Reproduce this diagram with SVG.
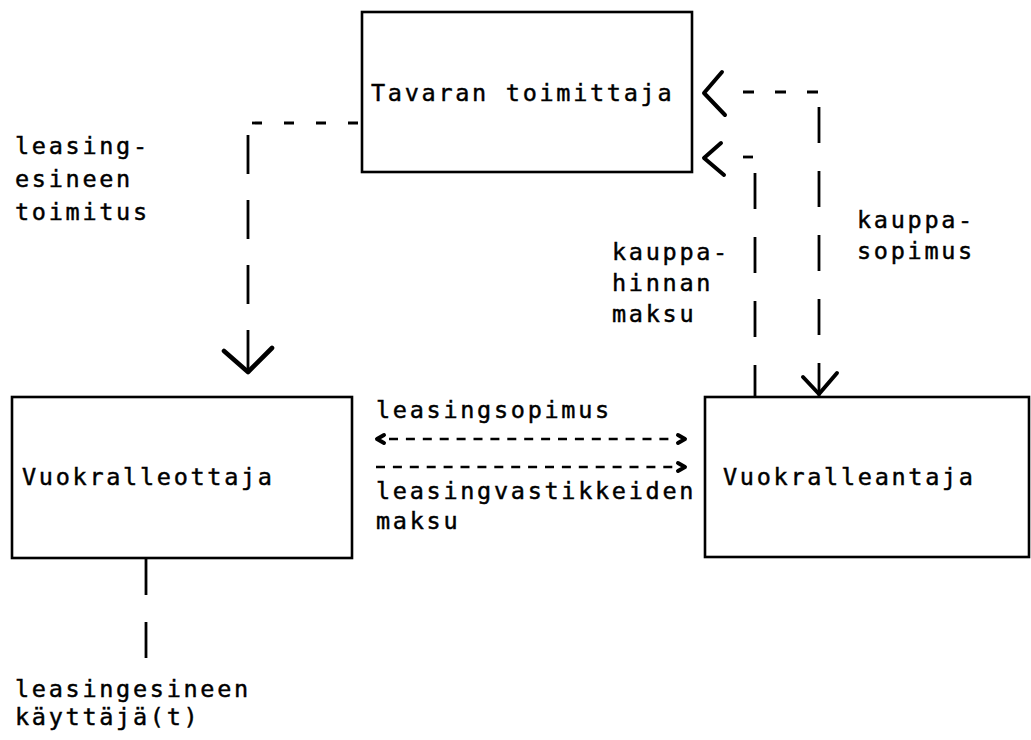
<svg xmlns="http://www.w3.org/2000/svg" width="1031" height="740" viewBox="0 0 1031 740">
<style>
.box{fill:none;stroke:#000;stroke-width:2.6}
.t{font-family:"DejaVu Sans Mono","Liberation Mono",monospace;font-size:23.5px;letter-spacing:2.7px;fill:#000;stroke:#000;stroke-width:0.45}
.dv{stroke:#000;stroke-width:2.8;fill:none;stroke-dasharray:36 28}
.dh{stroke:#000;stroke-width:2.8;fill:none;stroke-dasharray:10 22}
.dm{stroke:#000;stroke-width:2.4;fill:none;stroke-dasharray:9 7.9}
.ah{stroke:#000;stroke-width:4;fill:none;stroke-linecap:round;stroke-linejoin:round}
.sl{stroke:#000;stroke-width:2.8;fill:none}
</style>
<rect width="1031" height="740" fill="#fff"/>
<g id="toimittaja">
<rect class="box" x="362" y="12" width="330" height="160"/>
<text class="t" x="371" y="101">Tavaran toimittaja</text>
</g>
<g id="vuokralleottaja">
<rect class="box" x="12" y="397" width="340" height="161"/>
<text class="t" x="22" y="485">Vuokralleottaja</text>
</g>
<g id="vuokralleantaja">
<rect class="box" x="705" y="397" width="324" height="160"/>
<text class="t" x="723" y="485">Vuokralleantaja</text>
</g>
<g id="connectors">
<line class="dh" x1="252" y1="123" x2="362" y2="123"/>
<line class="dv" x1="248" y1="135" x2="248" y2="372" style="stroke-dasharray:39 26"/>
<path class="ah" d="M224 351 L248 372 L272 348" style="stroke-width:4.6"/>
<line class="dh" x1="743" y1="92" x2="820" y2="92" style="stroke-dasharray:11 21"/>
<line class="dv" x1="819" y1="107" x2="819" y2="397"/>
<path class="ah" d="M722 72 L704 93 L725 115"/>
<path class="ah" d="M803 377 L819 394 L837 373"/>
<line class="sl" x1="743" y1="157" x2="753" y2="157"/>
<line class="dv" x1="755" y1="173" x2="755" y2="397"/>
<path class="ah" d="M721 143 L704 158 L724 175"/>
<line class="dm" x1="389" y1="439" x2="675" y2="439"/>
<path class="ah" d="M384 435 L377 439 L384 443"/>
<path class="ah" d="M678 435 L685 439 L678 443"/>
<line class="dm" x1="376" y1="467" x2="675" y2="467"/>
<path class="ah" d="M678 463 L685 467 L678 471"/>
<line class="sl" x1="146" y1="558" x2="146" y2="595"/>
<line class="sl" x1="146" y1="622" x2="146" y2="658"/>
</g>
<g id="labels">
<text class="t" x="15" y="154">leasing-</text>
<text class="t" x="15" y="187">esineen</text>
<text class="t" x="15" y="220">toimitus</text>
<text class="t" x="612" y="260">kauppa-</text>
<text class="t" x="612" y="291">hinnan</text>
<text class="t" x="612" y="322">maksu</text>
<text class="t" x="857" y="228">kauppa-</text>
<text class="t" x="857" y="259">sopimus</text>
<text class="t" x="376" y="418">leasingsopimus</text>
<text class="t" x="376" y="499">leasingvastikkeiden</text>
<text class="t" x="376" y="529">maksu</text>
<text class="t" x="15" y="697">leasingesineen</text>
<text class="t" x="15" y="725">käyttäjä(t)</text>
</g>
</svg>
